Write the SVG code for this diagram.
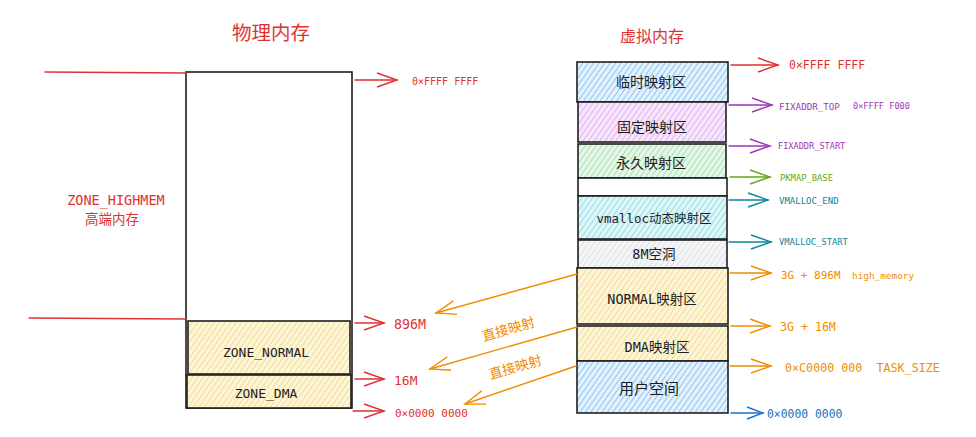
<svg xmlns="http://www.w3.org/2000/svg" width="976" height="437" viewBox="0 0 976 437">
<style>
  .box { stroke:#1e1e1e; stroke-width:1.6; }
  .lbl { font-family:"DejaVu Sans Mono","Noto Sans CJK SC",monospace; fill:#1e1e1e; text-anchor:middle; dominant-baseline:central; }
  .cjk { font-family:"Noto Sans CJK SC",sans-serif; }
  .mono { font-family:"DejaVu Sans Mono","Liberation Mono",monospace; dominant-baseline:central; white-space:pre; }
  .red { fill:#e03131; } .purple { fill:#9c36b5; } .green { fill:#66a80f; } .teal { fill:#0c8599; } .orange { fill:#f08c00; } .blue { fill:#1971c2; }
  .ln { fill:none; stroke-width:1.4; stroke-linecap:round; }
</style>
<defs>
  <pattern id="hBlue" width="4.5" height="5" patternUnits="userSpaceOnUse" patternTransform="rotate(35)"><rect width="5" height="5" fill="#e3f1fd"/><line x1="0" y1="0" x2="0" y2="5" stroke="#66b0ec" stroke-width="1.3"/></pattern>
  <pattern id="hPurple" width="4.5" height="5" patternUnits="userSpaceOnUse" patternTransform="rotate(35)"><rect width="5" height="5" fill="#f7e6fb"/><line x1="0" y1="0" x2="0" y2="5" stroke="#d597ea" stroke-width="1.3"/></pattern>
  <pattern id="hGreen" width="4.5" height="5" patternUnits="userSpaceOnUse" patternTransform="rotate(35)"><rect width="5" height="5" fill="#e5f7e8"/><line x1="0" y1="0" x2="0" y2="5" stroke="#8cd898" stroke-width="1.3"/></pattern>
  <pattern id="hCyan" width="4.5" height="5" patternUnits="userSpaceOnUse" patternTransform="rotate(35)"><rect width="5" height="5" fill="#dff6f9"/><line x1="0" y1="0" x2="0" y2="5" stroke="#6fd0de" stroke-width="1.3"/></pattern>
  <pattern id="hGray" width="4.5" height="5" patternUnits="userSpaceOnUse" patternTransform="rotate(35)"><rect width="5" height="5" fill="#f4f5f6"/><line x1="0" y1="0" x2="0" y2="5" stroke="#d3d7db" stroke-width="1.3"/></pattern>
  <pattern id="hYellow" width="4.5" height="5" patternUnits="userSpaceOnUse" patternTransform="rotate(35)"><rect width="5" height="5" fill="#fdf5da"/><line x1="0" y1="0" x2="0" y2="5" stroke="#f2d264" stroke-width="1.3"/></pattern>
  <marker id="aRed" markerUnits="userSpaceOnUse" markerWidth="30" markerHeight="20" refX="0" refY="0" viewBox="-24 -10 26 20" orient="auto"><path d="M-20,-7 L0,0 L-20,7" fill="none" stroke="#e03131" stroke-width="1.4"/></marker>
  <marker id="aPurple" markerUnits="userSpaceOnUse" markerWidth="30" markerHeight="20" refX="0" refY="0" viewBox="-24 -10 26 20" orient="auto"><path d="M-20,-7 L0,0 L-20,7" fill="none" stroke="#9c36b5" stroke-width="1.4"/></marker>
  <marker id="aGreen" markerUnits="userSpaceOnUse" markerWidth="30" markerHeight="20" refX="0" refY="0" viewBox="-24 -10 26 20" orient="auto"><path d="M-20,-7 L0,0 L-20,7" fill="none" stroke="#66a80f" stroke-width="1.4"/></marker>
  <marker id="aTeal" markerUnits="userSpaceOnUse" markerWidth="30" markerHeight="20" refX="0" refY="0" viewBox="-24 -10 26 20" orient="auto"><path d="M-20,-7 L0,0 L-20,7" fill="none" stroke="#0c8599" stroke-width="1.4"/></marker>
  <marker id="aOrange" markerUnits="userSpaceOnUse" markerWidth="30" markerHeight="20" refX="0" refY="0" viewBox="-24 -10 26 20" orient="auto"><path d="M-20,-7 L0,0 L-20,7" fill="none" stroke="#f08c00" stroke-width="1.4"/></marker>
  <marker id="aBlue" markerUnits="userSpaceOnUse" markerWidth="30" markerHeight="20" refX="0" refY="0" viewBox="-24 -10 26 20" orient="auto"><path d="M-16,-6 L0,0 L-16,6" fill="none" stroke="#1971c2" stroke-width="1.4"/></marker>
</defs>

<!-- titles -->
<text x="271" y="31" class="cjk red" font-size="19.5" text-anchor="middle" dominant-baseline="central">物理内存</text>
<text x="652" y="35" class="cjk red" font-size="16" text-anchor="middle" dominant-baseline="central">虚拟内存</text>

<!-- physical memory -->
<g id="phys-mem">
  <rect x="186" y="72" width="166" height="336" fill="#ffffff" class="box"/>
</g>
<g id="zone-normal">
  <rect x="188" y="321" width="162" height="53" fill="url(#hYellow)" class="box"/>
  <text x="266" y="352" class="lbl" font-size="13">ZONE_NORMAL</text>
</g>
<g id="zone-dma">
  <rect x="187" y="375" width="164" height="33" fill="url(#hYellow)" class="box"/>
  <text x="266" y="393" class="lbl" font-size="13">ZONE_DMA</text>
</g>
<g id="zone-highmem">
  <text x="116" y="200" class="mono red" font-size="13.5" text-anchor="middle">ZONE_HIGHMEM</text>
  <text x="112" y="218" class="cjk red" font-size="13.5" text-anchor="middle" dominant-baseline="central">高端内存</text>
</g>

<!-- virtual memory -->
<g id="v-temp">
  <rect x="577" y="62" width="151" height="40" fill="url(#hBlue)" class="box"/>
  <text x="651" y="82" class="lbl" font-size="14">临时映射区</text>
</g>
<g id="v-fixed">
  <rect x="578" y="102" width="148" height="40" fill="url(#hPurple)" class="box"/>
  <text x="652" y="127" class="lbl" font-size="14">固定映射区</text>
</g>
<g id="v-perm">
  <rect x="578" y="144" width="148" height="34" fill="url(#hGreen)" class="box"/>
  <text x="651" y="163" class="lbl" font-size="14">永久映射区</text>
</g>
<g id="v-gap">
  <rect x="578" y="178" width="149" height="18" fill="#ffffff" class="box"/>
</g>
<g id="v-vmalloc">
  <rect x="578" y="196" width="149" height="43" fill="url(#hCyan)" class="box"/>
  <text x="654" y="218" class="lbl" font-size="12.5">vmalloc动态映射区</text>
</g>
<g id="v-hole">
  <rect x="578" y="240" width="149" height="28" fill="url(#hGray)" class="box"/>
  <text x="654" y="254" class="lbl" font-size="13.5">8M空洞</text>
</g>
<g id="v-normal">
  <rect x="577" y="268" width="151" height="56" fill="url(#hYellow)" class="box"/>
  <text x="652" y="299" class="lbl" font-size="13.5">NORMAL映射区</text>
</g>
<g id="v-dma">
  <rect x="577" y="326" width="151" height="35" fill="url(#hYellow)" class="box"/>
  <text x="657" y="347" class="lbl" font-size="13.5">DMA映射区</text>
</g>
<g id="v-user">
  <rect x="577" y="361" width="151" height="52" fill="url(#hBlue)" class="box"/>
  <text x="649" y="389" class="lbl" font-size="15">用户空间</text>
</g>

<!-- connectors -->
<g id="connectors">
  <path class="ln" stroke="#e03131" d="M45,72 L186,73"/>
  <path class="ln" stroke="#e03131" d="M29,318 L186,319"/>
  <path class="ln" stroke="#e03131" d="M355,80 L397,80" marker-end="url(#aRed)"/>
  <path class="ln" stroke="#e03131" d="M355,323 L384,323" marker-end="url(#aRed)"/>
  <path class="ln" stroke="#e03131" d="M355,379 L384,379" marker-end="url(#aRed)"/>
  <path class="ln" stroke="#e03131" d="M353,411 L384,411" marker-end="url(#aRed)"/>

  <path class="ln" stroke="#e03131" d="M731,65 L778,65" marker-end="url(#aRed)"/>
  <path class="ln" stroke="#9c36b5" d="M729,105 L772,105" marker-end="url(#aPurple)"/>
  <path class="ln" stroke="#9c36b5" d="M729,146 L770,146" marker-end="url(#aPurple)"/>
  <path class="ln" stroke="#66a80f" d="M730,177 L770,177" marker-end="url(#aGreen)"/>
  <path class="ln" stroke="#0c8599" d="M729,200 L768,200" marker-end="url(#aTeal)"/>
  <path class="ln" stroke="#0c8599" d="M729,242 L771,242" marker-end="url(#aTeal)"/>
  <path class="ln" stroke="#f08c00" d="M730,273 L771,273" marker-end="url(#aOrange)"/>
  <path class="ln" stroke="#f08c00" d="M731,326 L770,326" marker-end="url(#aOrange)"/>
  <path class="ln" stroke="#f08c00" d="M730,366 L771,366" marker-end="url(#aOrange)"/>
  <path class="ln" stroke="#1971c2" d="M731,413 L763,413" marker-end="url(#aBlue)"/>

  <path class="ln" stroke="#f08c00" d="M577,274 L436,313" marker-end="url(#aOrange)"/>
  <path class="ln" stroke="#f08c00" d="M577,327 L430,369" marker-end="url(#aOrange)"/>
  <path class="ln" stroke="#f08c00" d="M576,366 L465,404" marker-end="url(#aOrange)"/>
  <text x="508" y="328" class="cjk orange" font-size="13.5" text-anchor="middle" dominant-baseline="central" transform="rotate(-16 508 328)">直接映射</text>
  <text x="515" y="366" class="cjk orange" font-size="13.5" text-anchor="middle" dominant-baseline="central" transform="rotate(-16 515 366)">直接映射</text>
</g>

<!-- address labels -->
<text x="412" y="81" class="mono red" font-size="10">0×FFFF FFFF</text>
<text x="394" y="324" class="mono red" font-size="13.3">896M</text>
<text x="394" y="380" class="mono red" font-size="13">16M</text>
<text x="395" y="413" class="mono red" font-size="11">0×0000 0000</text>

<text x="789" y="65" class="mono red" font-size="11.5">0×FFFF FFFF</text>
<text x="779" y="106" class="mono purple" font-size="9.2">FIXADDR_TOP</text>
<text x="853" y="106" class="mono purple" font-size="8.6">0×FFFF F000</text>
<text x="778" y="146" class="mono purple" font-size="8.6">FIXADDR_START</text>
<text x="780" y="178" class="mono green" font-size="8.8">PKMAP_BASE</text>
<text x="779" y="201" class="mono teal" font-size="9">VMALLOC_END</text>
<text x="779" y="242" class="mono teal" font-size="8.8">VMALLOC_START</text>
<text x="781" y="275" class="mono orange" font-size="11">3G + 896M</text>
<text x="852" y="275" class="mono orange" font-size="9.4">high_memory</text>
<text x="780" y="327" class="mono orange" font-size="11.6">3G + 16M</text>
<text x="785" y="368" class="mono orange" font-size="11.7" xml:space="preserve">0×C0000 000  TASK_SIZE</text>
<text x="767" y="414" class="mono blue" font-size="11.4">0×0000 0000</text>
</svg>
